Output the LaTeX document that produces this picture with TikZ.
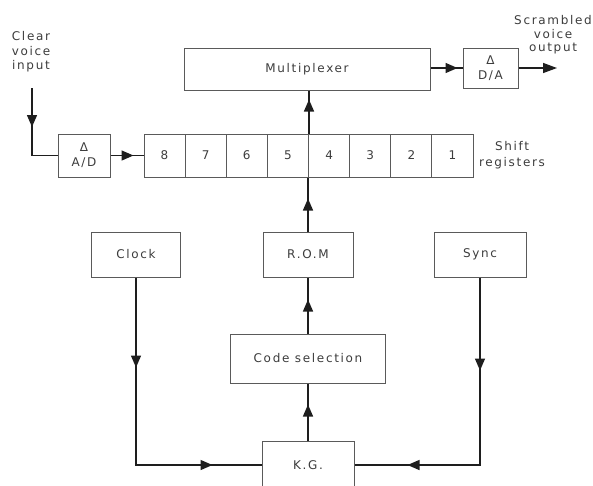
\documentclass[tikz,border=0pt]{standalone}
\usepackage{fontspec}
\setmainfont[LetterSpace=14]{DejaVu Sans}
\usetikzlibrary{arrows.meta,decorations.markings}
\definecolor{txt}{HTML}{3C3C3C}
\definecolor{boxc}{HTML}{5A5A5A}
\definecolor{linec}{HTML}{1E1E1E}
\tikzset{
  box/.style={draw=boxc, line width=1pt, inner sep=0pt, text=txt, font=\fontsize{12}{15}\selectfont, align=center},
  lbl/.style={inner sep=0pt, text=txt, font=\fontsize{12}{14.5}\selectfont, align=center},
  conn/.style={draw=linec, line width=1.4pt},
  tipa/.tip={Triangle[length=12pt,width=10pt]},
  marr/.style={postaction={decorate,decoration={markings,mark=at position #1 with {\arrow{tipa}}}}},
  marrtwo/.style 2 args={postaction={decorate,decoration={markings,
     mark=at position #1 with {\arrow{tipa}},
     mark=at position #2 with {\arrow{tipa}}}}}
}
\begin{document}
\begin{tikzpicture}[x=1pt,y=-1pt]
\useasboundingbox (0,0) rectangle (593,485);
% boxes
\node[box, minimum width=246, minimum height=42] (mux) at (307,69) {Multiplexer};
\node[box, minimum width=55, minimum height=40] (da) at (490.5,68) {Δ\\D/A};
\node[box, minimum width=52, minimum height=43] (ad) at (84,155.5) {Δ\\A/D};
\foreach \i [evaluate=\i as \xc using {144+41.125*(8-\i)+20.5625}] in {8,7,6,5,4,3,2,1}{
  \node[box, minimum width=41.125, minimum height=43] (r\i) at (\xc,155.5) {\i};
}
\node[box, minimum width=90, minimum height=45] (rom) at (308,254.5) {R.O.M};
\node[box, minimum width=155, minimum height=49] (code) at (308,358.5) {Code selection};
\node[box, minimum width=92, minimum height=48] (kg) at (308,465) {K.G.};
\node[box, minimum width=89, minimum height=45] (clock) at (136,254.5) {Clock};
\node[box, minimum width=92, minimum height=45] (sync) at (480,254.5) {Sync};
% labels
\node[lbl] (inlbl) at (31,52) {Clear\\voice\\input};
\node[lbl, font=\fontsize{12}{13.5}\selectfont] (outlbl) at (553,35) {Scrambled\\voice\\output};
\node[lbl, font=\fontsize{12}{16}\selectfont] (shlbl) at (512,155) {Shift\\registers};
% connectors
\coordinate (inTop) at (32,88);
\coordinate (outEnd) at (557,68);
\draw[conn, marr=39pt] (inTop) |- (ad.west);
\draw[conn, marr=23pt] (ad.east) -- (r8.west);
\draw[conn, marr=34pt] (r5.north east) -- (r5.north east |- mux.south);
\draw[conn, marr=33pt] (rom.north) -- (rom.north |- r5.south);
\draw[conn, marr=34pt] (code.north) -- (rom.south);
\draw[conn, marr=36pt] (kg.north) -- (code.south);
\draw[conn, marr=27pt] (mux.east |- da.west) -- (da.west);
\draw[conn, -{Triangle[length=14pt,width=10pt]}] (da.east) -- (outEnd);
\draw[conn, marrtwo={90pt}{264pt}] (clock.south) |- (kg.west);
\draw[conn, marrtwo={93pt}{260pt}] (sync.south) |- (kg.east);
\end{tikzpicture}
\end{document}
